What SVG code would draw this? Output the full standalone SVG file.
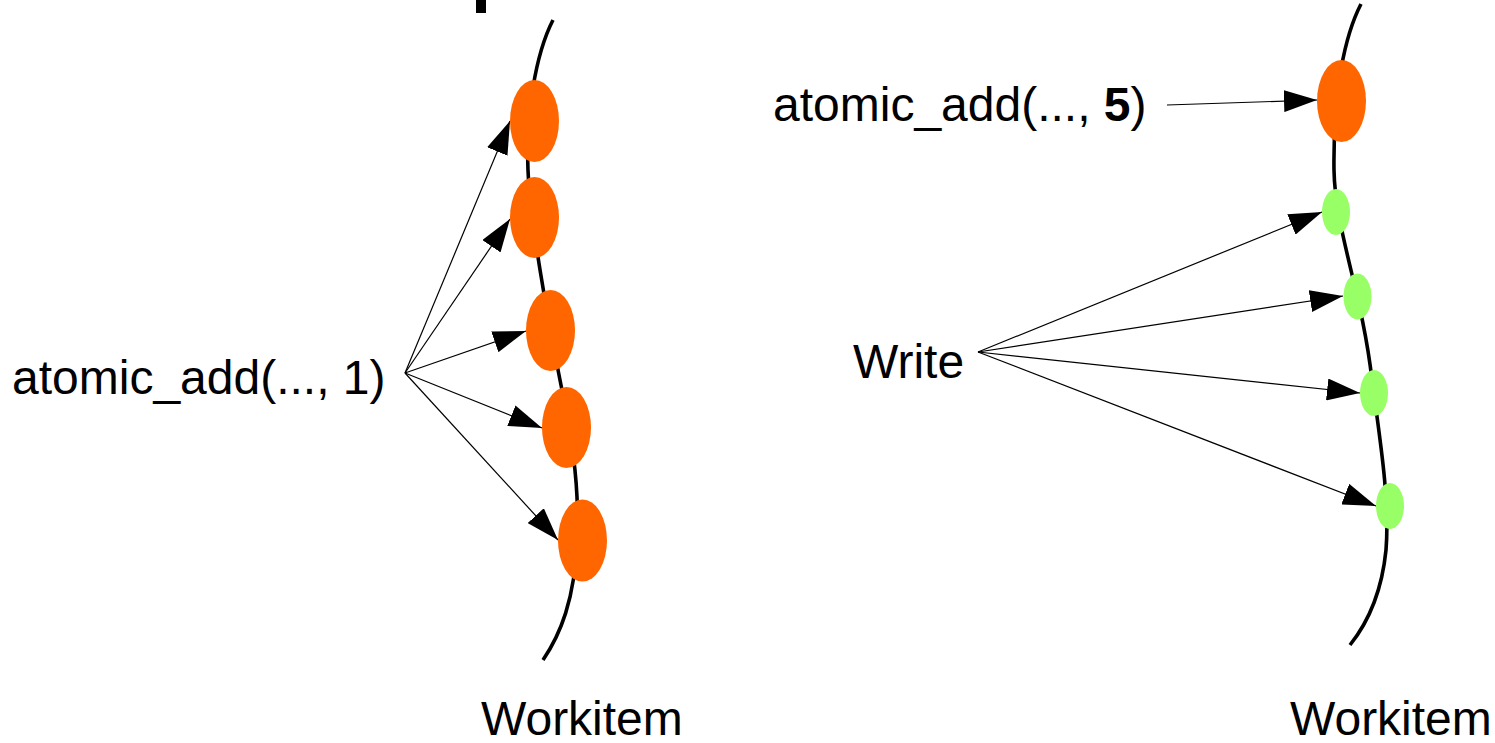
<svg xmlns="http://www.w3.org/2000/svg" width="1495" height="743" viewBox="0 0 1495 743">
  <style>
    .label { font-family: "Liberation Sans", Arial, sans-serif; font-size: 48px; fill: #000; }
    .thread { fill: none; stroke: #000; stroke-width: 3.6; stroke-linecap: butt; }
    .op-atomic { fill: #ff6600; }
    .op-write { fill: #99ff66; }
    .conn { fill: none; stroke: #000; stroke-width: 1.2; marker-end: url(#arrow); }
  </style>
  <defs>
    <marker id="arrow" markerUnits="userSpaceOnUse" markerWidth="33" markerHeight="22" viewBox="0 0 33 22" refX="33" refY="11" orient="auto">
      <path d="M0,0 L33,11 L0,22 z" fill="#000"/>
    </marker>
  </defs>

  <rect width="1495" height="743" fill="#fff"/>

  <!-- clipped stroke remnant at the top edge -->
  <rect x="476" y="0" width="10" height="13" fill="#000"/>

  <!-- workitem timelines -->
  <g id="timeline-left">
    <path class="thread" d="M553,20 C535,55 526,115 528,170 C530,220 548,320 560,380 C570,430 580,480 577,540 C575,600 560,635 543,660"/>
  </g>
  <g id="timeline-right">
    <path class="thread" d="M1361,4 C1345,35 1333,90 1334,170 C1335,230 1362,292 1372,380 C1380,440 1390,500 1386,550 C1382,590 1370,620 1350,645"/>
  </g>

  <!-- connectors -->
  <g id="connectors">
    <line class="conn" x1="405" y1="373" x2="510" y2="121"/>
    <line class="conn" x1="405" y1="373" x2="510" y2="219"/>
    <line class="conn" x1="405" y1="373" x2="526" y2="331"/>
    <line class="conn" x1="405" y1="373" x2="542" y2="428"/>
    <line class="conn" x1="405" y1="373" x2="558" y2="540"/>
    <line class="conn" x1="1167" y1="105" x2="1317" y2="100"/>
    <line class="conn" x1="978" y1="352" x2="1322" y2="212"/>
    <line class="conn" x1="978" y1="352" x2="1343" y2="296"/>
    <line class="conn" x1="978" y1="352" x2="1360" y2="393"/>
    <line class="conn" x1="978" y1="352" x2="1376" y2="506"/>
  </g>

  <!-- left workitem: five atomic increments -->
  <g id="add1-a"><ellipse class="op-atomic" cx="534.5" cy="121" rx="24.5" ry="41"/></g>
  <g id="add1-b"><ellipse class="op-atomic" cx="534.5" cy="217.5" rx="24.5" ry="40.5"/></g>
  <g id="add1-c"><ellipse class="op-atomic" cx="550.5" cy="330.5" rx="24.5" ry="40.5"/></g>
  <g id="add1-d"><ellipse class="op-atomic" cx="566.5" cy="427.5" rx="24.5" ry="40.5"/></g>
  <g id="add1-e"><ellipse class="op-atomic" cx="582.5" cy="540.5" rx="24.5" ry="41"/></g>

  <!-- right workitem: one atomic add, then plain writes -->
  <g id="add5"><ellipse class="op-atomic" cx="1341.5" cy="101" rx="24.5" ry="41"/></g>
  <g id="write-a"><ellipse class="op-write" cx="1336" cy="212" rx="14" ry="23"/></g>
  <g id="write-b"><ellipse class="op-write" cx="1357.5" cy="296.5" rx="14" ry="23"/></g>
  <g id="write-c"><ellipse class="op-write" cx="1374" cy="393" rx="14" ry="23"/></g>
  <g id="write-d"><ellipse class="op-write" cx="1390" cy="506" rx="14" ry="23"/></g>

  <!-- labels -->
  <g id="label-add1"><text class="label" x="12" y="394">atomic_add(..., 1)</text></g>
  <g id="label-add5"><text class="label" x="773" y="121">atomic_add(..., <tspan font-weight="bold">5</tspan>)</text></g>
  <g id="label-write"><text class="label" x="853" y="378">Write</text></g>
  <g id="label-workitem-left"><text class="label" x="481" y="735">Workitem</text></g>
  <g id="label-workitem-right"><text class="label" x="1290" y="735">Workitem</text></g>
</svg>
